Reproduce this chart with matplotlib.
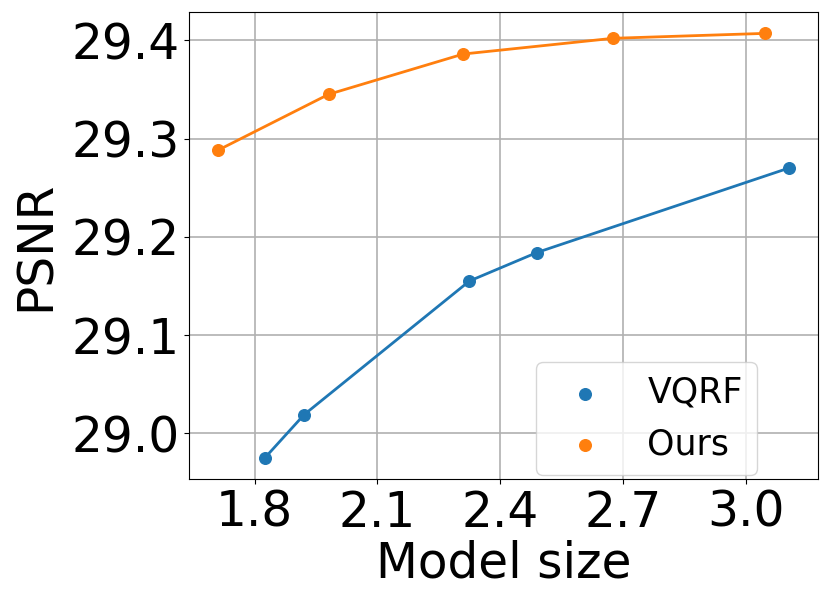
import matplotlib
matplotlib.use("Agg")
import matplotlib.pyplot as plt

# model size vs PSNR
vqrf_size = [1.825, 1.921, 2.325, 2.490, 3.106]
vqrf_psnr = [28.975, 29.019, 29.155, 29.184, 29.270]
ours_size = [1.710, 1.981, 2.310, 2.676, 3.047]
ours_psnr = [29.288, 29.345, 29.386, 29.402, 29.407]

xticks = [1.8, 2.1, 2.4, 2.7, 3.0]
yticks = [29.0, 29.1, 29.2, 29.3, 29.4]

fig = plt.figure(figsize=(8.3, 6.08), dpi=100)
ax = fig.add_axes([0.228, 0.212, 0.757, 0.768])

ax.plot(vqrf_size, vqrf_psnr, color="C0", linewidth=2)
ax.plot(ours_size, ours_psnr, color="C1", linewidth=2)
ax.scatter(vqrf_size, vqrf_psnr, color="C0", s=70, label="VQRF", zorder=3)
ax.scatter(ours_size, ours_psnr, color="C1", s=70, label="Ours", zorder=3)

ax.set_xticks(xticks)
ax.set_yticks(yticks)
ax.set_xticklabels([f"{v:.1f}" for v in xticks])
ax.set_yticklabels([f"{v:.1f}" for v in yticks])
ax.tick_params(labelsize=35)
ax.grid(True, linewidth=1.2)
ax.set_axisbelow(True)

ax.set_xlabel("Model size", fontsize=35, labelpad=2)
ax.set_ylabel("PSNR", fontsize=35, labelpad=8)

ax.legend(loc="lower right", bbox_to_anchor=(0.903, 0.009), borderaxespad=0,
          fontsize=25)

fig.savefig("out.png", dpi=100)
